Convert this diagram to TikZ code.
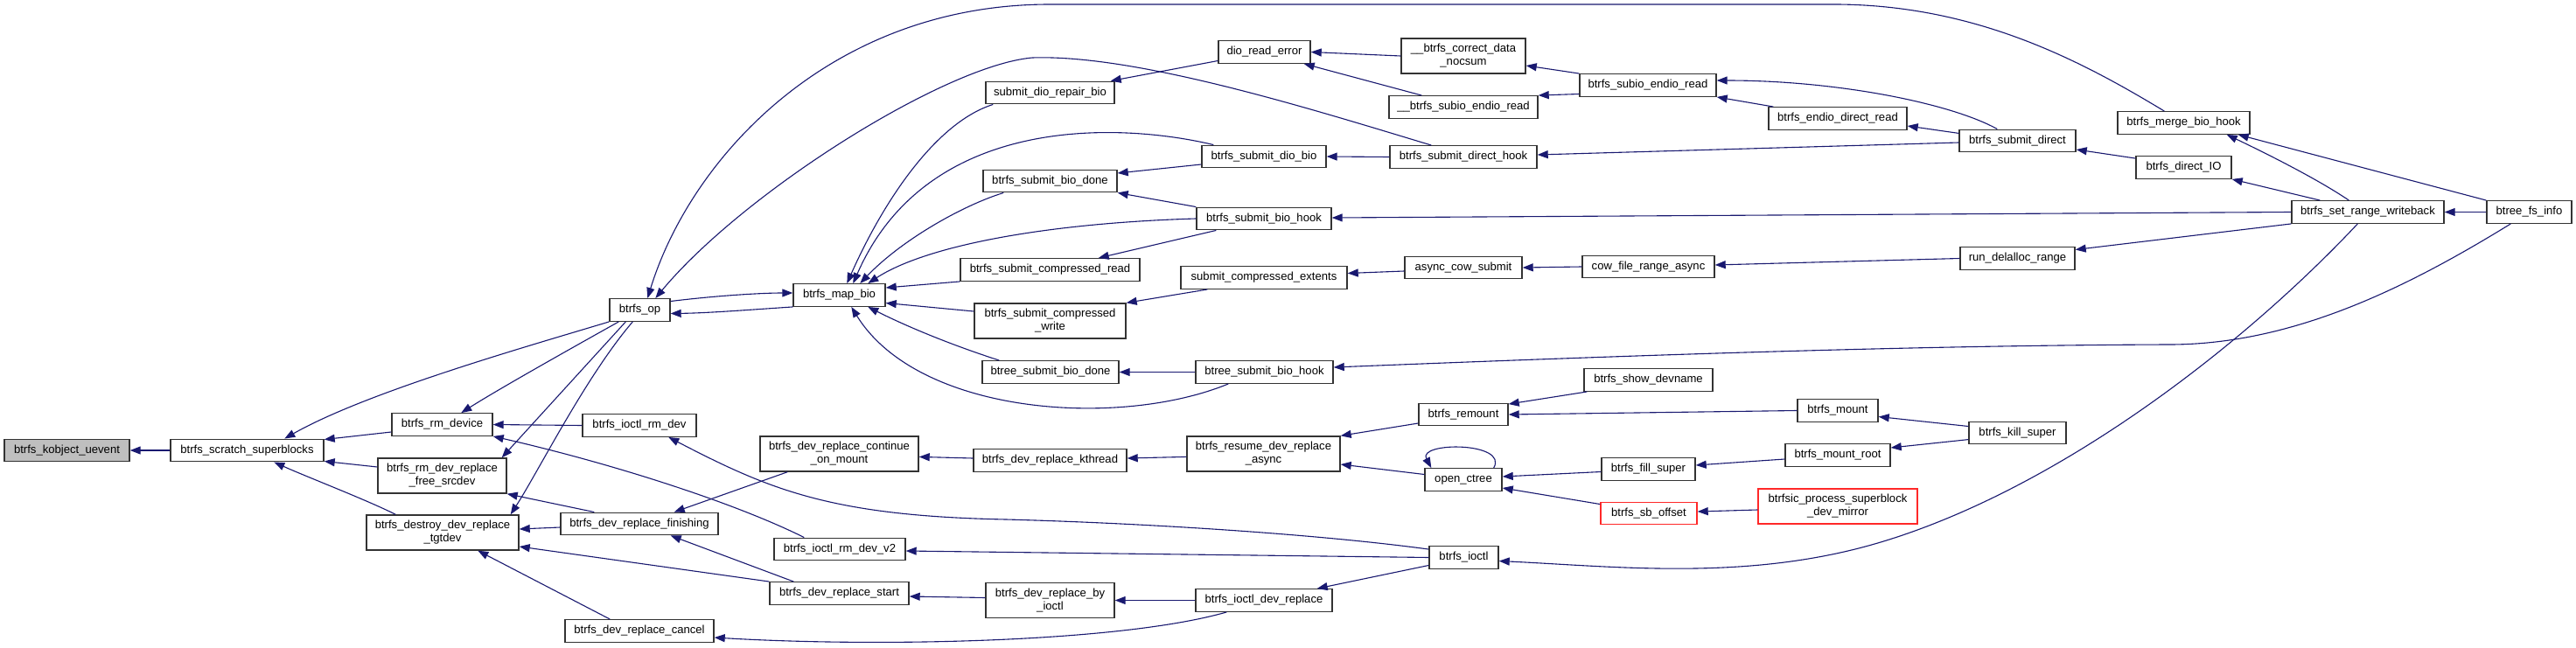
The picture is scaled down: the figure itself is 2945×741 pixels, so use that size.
\documentclass[tikz,border=0pt]{standalone}
\usepackage{fontspec}
\setmainfont{Liberation Sans}
\usetikzlibrary{arrows.meta}
\definecolor{edgec}{RGB}{25,25,112}
\definecolor{kobfill}{RGB}{191,191,191}
\definecolor{redb}{RGB}{255,40,40}
\begin{document}
\begin{tikzpicture}[x=1pt,y=-1pt,
  font=\fontsize{13.1}{15}\selectfont,
  box/.style={draw=black!80,line width=1.4pt,fill=white,inner sep=0pt,align=center,minimum height=25.5pt},
  two/.style={minimum height=40pt},
  redbox/.style={draw=redb},
  e/.style={draw=edgec,line width=1.1pt,-{Triangle[length=12pt,width=9pt]}}]
\useasboundingbox (0,0) rectangle (2945,741);
\fill[white] (0,0) rectangle (2945,741);
% nodes
\node[box,minimum width=143,fill=kobfill] (kob) at (76.5,515) {btrfs\_kobject\_uevent};
\node[box,minimum width=175] (scr) at (282.5,515) {btrfs\_scratch\_superblocks};
\node[box,minimum width=115] (rmd) at (505.5,485.5) {btrfs\_rm\_device};
\node[box,two,minimum width=147] (rmr) at (505.5,544) {btrfs\_rm\_dev\_replace\\\_free\_srcdev};
\node[box,two,minimum width=174] (des) at (506,609) {btrfs\_destroy\_dev\_replace\\\_tgtdev};
\node[box,minimum width=69] (op) at (731.5,354.5) {btrfs\_op};
\node[box,minimum width=130] (irm) at (731,486.5) {btrfs\_ioctl\_rm\_dev};
\node[box,minimum width=180] (fin) at (731,599) {btrfs\_dev\_replace\_finishing};
\node[box,minimum width=170] (can) at (731,721.5) {btrfs\_dev\_replace\_cancel};
\node[box,minimum width=105] (map) at (959.5,337.5) {btrfs\_map\_bio};
\node[box,two,minimum width=181] (cont) at (959.5,519) {btrfs\_dev\_replace\_continue\\\_on\_mount};
\node[box,minimum width=150] (irm2) at (960,628) {btrfs\_ioctl\_rm\_dev\_v2};
\node[box,minimum width=159] (start) at (959.5,678.5) {btrfs\_dev\_replace\_start};
\node[box,minimum width=147] (repair) at (1200.5,106) {submit\_dio\_repair\_bio};
\node[box,minimum width=153] (bdone) at (1200.5,207) {btrfs\_submit\_bio\_done};
\node[box,minimum width=205] (cread) at (1200.5,308.5) {btrfs\_submit\_compressed\_read};
\node[box,two,minimum width=173] (cwrite) at (1200.5,367) {btrfs\_submit\_compressed\\\_write};
\node[box,minimum width=156] (btdone) at (1201,425.5) {btree\_submit\_bio\_done};
\node[box,minimum width=175] (kthr) at (1200.5,526.5) {btrfs\_dev\_replace\_kthread};
\node[box,two,minimum width=147] (byio) at (1200.5,686.5) {btrfs\_dev\_replace\_by\\\_ioctl};
\node[box,minimum width=105] (dre) at (1445.5,59.5) {dio\_read\_error};
\node[box,minimum width=142] (ddio) at (1445,179) {btrfs\_submit\_dio\_bio};
\node[box,minimum width=154] (bhook) at (1445,250) {btrfs\_submit\_bio\_hook};
\node[box,minimum width=190] (cext) at (1445,317.5) {submit\_compressed\_extents};
\node[box,minimum width=157] (bthook) at (1445.5,425.5) {btree\_submit\_bio\_hook};
\node[box,two,minimum width=175] (resume) at (1444.5,519) {btrfs\_resume\_dev\_replace\\\_async};
\node[box,minimum width=156] (idr) at (1445,686.5) {btrfs\_ioctl\_dev\_replace};
\node[box,two,minimum width=142] (corr) at (1673,64) {\_\_btrfs\_correct\_data\\\_nocsum};
\node[box,minimum width=170] (subio2) at (1673,122.5) {\_\_btrfs\_subio\_endio\_read};
\node[box,minimum width=168] (dhook) at (1673,179.5) {btrfs\_submit\_direct\_hook};
\node[box,minimum width=134] (acow) at (1673,306) {async\_cow\_submit};
\node[box,minimum width=102] (remount) at (1673,474) {btrfs\_remount};
\node[box,minimum width=88] (octree) at (1673,548.5) {open\_ctree};
\node[box,minimum width=79] (ioctl) at (1673.5,637.5) {btrfs\_ioctl};
\node[box,minimum width=156] (subio) at (1884,97.5) {btrfs\_subio\_endio\_read};
\node[box,minimum width=151] (cowr) at (1884.5,305) {cow\_file\_range\_async};
\node[box,minimum width=147] (showd) at (1884.5,434.5) {btrfs\_show\_devname};
\node[box,minimum width=107] (fills) at (1884.5,536.5) {btrfs\_fill\_super};
\node[box,redbox,minimum width=110] (sboff) at (1885,587) {btrfs\_sb\_offset};
\node[box,minimum width=158] (edr) at (2101,135.5) {btrfs\_endio\_direct\_read};
\node[box,minimum width=92] (mount) at (2101,469.5) {btrfs\_mount};
\node[box,minimum width=120] (mroot) at (2101,520.5) {btrfs\_mount\_root};
\node[box,two,redbox,minimum width=182] (bproc) at (2101,579) {btrfsic\_process\_superblock\\\_dev\_mirror};
\node[box,minimum width=133] (sdirect) at (2306.5,161) {btrfs\_submit\_direct};
\node[box,minimum width=131] (rundel) at (2306.5,295.5) {run\_delalloc\_range};
\node[box,minimum width=111] (kill) at (2306.5,495) {btrfs\_kill\_super};
\node[box,minimum width=151] (merge) at (2496.5,140.5) {btrfs\_merge\_bio\_hook};
\node[box,minimum width=109] (dio) at (2496.5,191.5) {btrfs\_direct\_IO};
\node[box,minimum width=174] (srw) at (2707,242.5) {btrfs\_set\_range\_writeback};
\node[box,minimum width=97] (bfs) at (2891.5,242.5) {btree\_fs\_info};
% edges
\draw[e] (scr.west) -- (kob.east);
\draw[e] (op.south west) .. controls (600,397) and (420,448) .. ([xshift=131]scr.north west);
\draw[e] ([yshift=-8.5]rmd.west) -- ([yshift=-1]scr.north east);
\draw[e] ([yshift=10]rmr.west) -- ([yshift=1]scr.south east);
\draw[e] ([xshift=34]des.north west) .. controls (420,572) and (350,545) .. ([xshift=119]scr.south west);
\draw[e] ([xshift=11]op.south west) .. controls (650,400) and (570,445) .. ([xshift=80]rmd.north west);
\draw[e] (irm.west) -- (rmd.east);
\draw[e] ([xshift=35]irm2.north west) .. controls (840,575) and (700,530) .. (rmd.south east);
\draw[e] ([xshift=19]op.south west) -- ([xshift=-6]rmr.north east);
\draw[e] ([xshift=39]fin.north west) -- (rmr.south east);
\draw[e] ([xshift=27]op.south west) .. controls (670,430) and (615,540) .. ([xshift=-10]des.north east);
\draw[e] ([yshift=-4]fin.west) -- ([yshift=4]des.east);
\draw[e] (start.north west) -- ([yshift=-16]des.east);
\draw[e] ([xshift=52]can.north west) -- ([xshift=128]des.south west);
\draw[e] (map.south west) .. controls (860,354) and (810,358) .. ([yshift=-4]op.east);
\draw[e] ([yshift=10]op.east) .. controls (820,338) and (870,335) .. ([yshift=2.5]map.west);
\draw[e] ([xshift=54]merge.north west) .. controls (2380,70) and (2260,6) .. (2100,5) -- (1200,5) .. controls (950,5) and (790,180) .. ([xshift=44]op.north west);
\draw[e] ([xshift=48]dhook.north west) .. controls (1500,125) and (1300,62) .. (1180,66) .. controls (1080,75) and (850,220) .. ([xshift=53]op.north west);
\draw[e] ([xshift=9]repair.south west) .. controls (1070,140) and (1010,230) .. ([xshift=62]map.north west);
\draw[e] ([xshift=14]ddio.north west) .. controls (1280,140) and (1060,130) .. ([xshift=69]map.north west);
\draw[e] ([xshift=24]bdone.south west) .. controls (1100,235) and (1030,275) .. ([xshift=77]map.north west);
\draw[e] (bhook.west) .. controls (1200,255) and (1060,280) .. ([xshift=86]map.north west);
\draw[e] (cread.south west) -- ([yshift=8.5]map.east);
\draw[e] ([yshift=11]cwrite.west) -- ([yshift=-9]map.east);
\draw[e] ([xshift=20]btdone.north west) .. controls (1080,392) and (1030,370) .. ([xshift=86]map.south west);
\draw[e] ([xshift=38]bthook.south west) .. controls (1280,490) and (1050,475) .. ([xshift=67]map.south west);
\draw[e] ([yshift=-10]dre.west) -- ([xshift=-5]repair.north east);
\draw[e] ([yshift=-9]ddio.west) -- ([yshift=9]bdone.east);
\draw[e] (bhook.north west) -- (bdone.south east);
\draw[e] ([xshift=23]bhook.south west) -- ([xshift=-48]cread.north east);
\draw[e] ([xshift=31]cext.south west) -- (cwrite.north east);
\draw[e] (bthook.west) -- (btdone.east);
\draw[e] (corr.west) -- (dre.east);
\draw[e] ([xshift=38]subio2.north west) -- ([xshift=-8]dre.south east);
\draw[e] (dhook.west) -- (ddio.east);
\draw[e] (subio.north west) -- ([yshift=-11]corr.east);
\draw[e] ([yshift=-10]subio.west) -- (subio2.north east);
\draw[e] ([xshift=44]sdirect.north west) .. controls (2230,118) and (2100,92) .. ([yshift=5.5]subio.east);
\draw[e] ([xshift=6]edr.north west) -- (subio.south east);
\draw[e] ([yshift=8.6]sdirect.west) -- ([yshift=-8.5]edr.east);
\draw[e] ([yshift=-2]sdirect.west) -- ([yshift=2.5]dhook.east);
\draw[e] (srw.west) -- ([yshift=1]bhook.east);
\draw[e] ([yshift=-4]acow.west) -- ([yshift=5]cext.east);
\draw[e] (cowr.west) -- (acow.east);
\draw[e] (rundel.west) -- ([yshift=2]cowr.east);
\draw[e] ([xshift=28]bfs.south west) .. controls (2750,330) and (2620,394) .. (2480,394) .. controls (2200,395) and (1900,405) .. ([yshift=5.5]bthook.east);
\draw[e] ([yshift=-10]remount.west) -- (resume.north east);
\draw[e] ([yshift=6]octree.west) -- ([yshift=-12]resume.east);
\draw[e] ([xshift=-10]octree.north east) .. controls (1725,505) and (1620,505) .. ([xshift=8]octree.north west);
\draw[e] ([yshift=-3]fills.west) -- ([yshift=3.5]octree.east);
\draw[e] ([yshift=-3]sboff.north west) -- ([yshift=-9.5]octree.east);
\draw[e] ([xshift=4]showd.south west) -- ([yshift=-1.5]remount.north east);
\draw[e] (mount.west) -- (remount.east);
\draw[e] ([yshift=7.5]kill.west) -- ([yshift=-7]mount.east);
\draw[e] ([yshift=-7.6]kill.west) -- ([yshift=8.5]mroot.east);
\draw[e] ([yshift=-4.5]mroot.west) -- ([yshift=4.5]fills.east);
\draw[e] ([yshift=-4]bproc.west) -- ([yshift=2]sboff.east);
\draw[e] ([yshift=2.5]kthr.west) -- ([yshift=-3.4]cont.east);
\draw[e] ([yshift=-3.4]resume.west) -- ([yshift=2.5]kthr.east);
\draw[e] ([xshift=32]cont.south west) -- ([xshift=-51]fin.north east);
\draw[e] ([xshift=28]start.north west) -- ([xshift=-55]fin.south east);
\draw[e] ([yshift=-4]ioctl.north west) .. controls (1500,610) and (1300,598) .. (1150,594) .. controls (950,590) and (880,560) .. ([xshift=99]irm.south west);
\draw[e] (ioctl.west) -- ([yshift=-2]irm2.east);
\draw[e] ([yshift=3]byio.west) -- ([yshift=-3.5]start.east);
\draw[e] (idr.west) -- (byio.east);
\draw[e] ([xshift=36]idr.south west) .. controls (1280,735) and (1000,740) .. ([yshift=-7.5]can.east);
\draw[e] ([yshift=-9]ioctl.west) -- ([xshift=-18]idr.north east);
\draw[e] ([xshift=76]srw.south west) .. controls (2560,400) and (2350,560) .. (2150,620) .. controls (2000,665) and (1850,648) .. ([yshift=-4]ioctl.east);
\draw[e] ([yshift=-3]dio.north west) -- ([yshift=-10]sdirect.east);
\draw[e] ([xshift=66]srw.north west) .. controls (2650,205) and (2590,175) .. ([xshift=-27]merge.south east);
\draw[e] (bfs.north west) -- ([xshift=-14]merge.south east);
\draw[e] ([xshift=33]srw.north west) -- (dio.south east);
\draw[e] (bfs.west) -- (srw.east);
\draw[e] (srw.south west) -- ([yshift=10]rundel.east);
\end{tikzpicture}
\end{document}
